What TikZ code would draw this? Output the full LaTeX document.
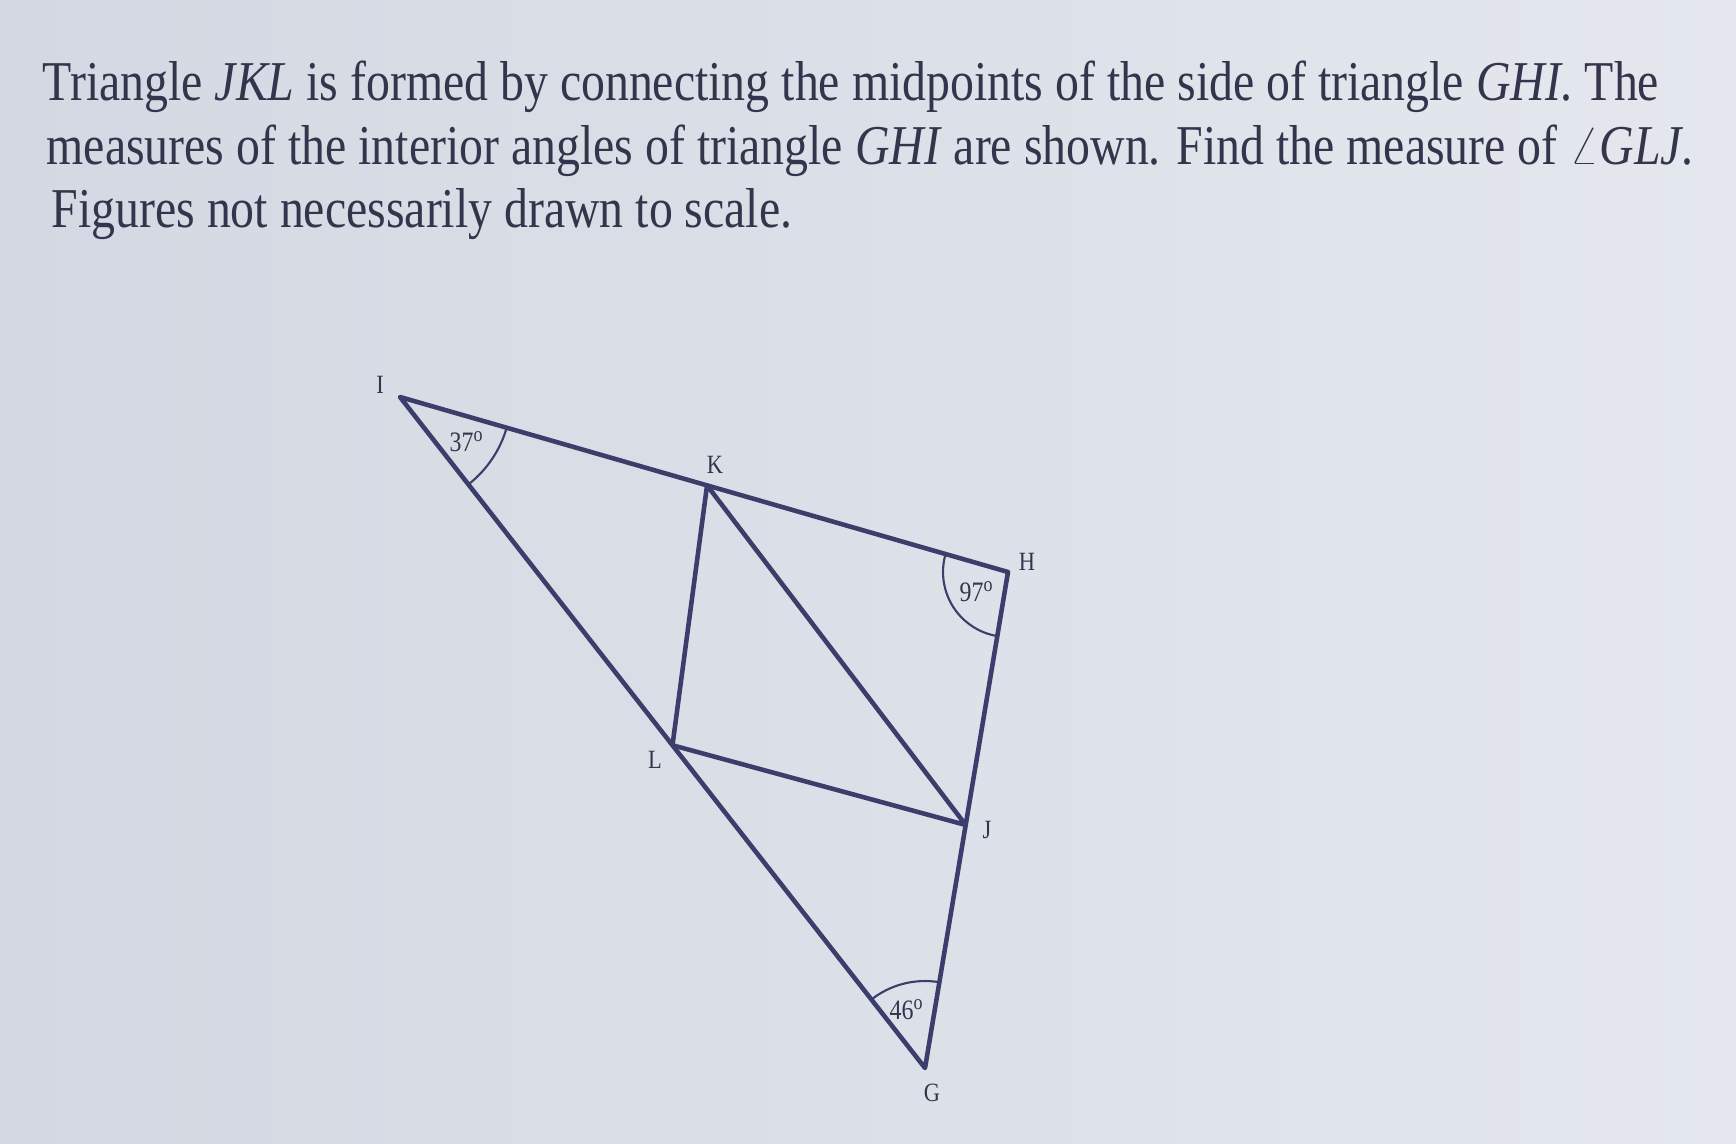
\documentclass[tikz,border=0pt]{standalone}
\usepackage{fontspec}
\setmainfont[FakeStretch=0.85]{Liberation Serif}
\usetikzlibrary{positioning, calc, angles}

\definecolor{bgcol}{HTML}{DDE3EC}
\definecolor{bgleft}{HTML}{D3D8E2}
\definecolor{bgright}{HTML}{E4E8EE}
\definecolor{inkcol}{HTML}{34354C}
\definecolor{edgecol}{HTML}{3B3D6B}

\begin{document}
\begin{tikzpicture}
  [
  % question text
  question/.style = {anchor = base west,
    inner sep = 0pt,
    text = inkcol,
    font = \fontsize{16}{19}\selectfont},
  % vertex label
  vlabel/.style = {inner sep = 1pt,
    text = inkcol,
    font = \fontsize{7.5}{9}\selectfont},
  % angle label
  alabel/.style = {inner sep = 1pt,
    text = inkcol,
    font = \fontsize{8}{10}\selectfont},
  % side
  side/.style = {draw = edgecol, line width = 1.3pt, line join = round},
  % angle mark
  amark/.style = {draw = edgecol, line width = 0.6pt},
  ]

  \shade [left color = bgleft, right color = bgright] (0,0) rectangle (17.36,-11.43);
  \useasboundingbox (0,0) rectangle (17.36,-11.43);

  % text
  \node [question] (line1) at (0.42,-1.00)
    {Triangle \textit{JKL} is formed by connecting the midpoints of the side of triangle \textit{GHI}. The};
  \node [question] (line2) at (0.46,-1.64)
    {measures of the interior angles of triangle \textit{GHI} are shown. Find the measure of $\angle$\textit{GLJ}.};
  \node [question] (line3) at (0.51,-2.27)
    {Figures not necessarily drawn to scale.};

  % vertices
  \coordinate (I) at (4.00,-3.97);
  \coordinate (H) at (10.08,-5.72);
  \coordinate (G) at (9.25,-10.68);
  \coordinate (K) at ($(I)!0.505!(H)$);
  \coordinate (L) at ($(I)!0.519!(G)$);
  \coordinate (J) at ($(H)!0.51!(G)$);

  % labels
  \node [vlabel] (labI) at (3.80,-3.85) {I};
  \node [vlabel] (labH) at (10.27,-5.62) {H};
  \node [vlabel] (labG) at (9.32,-10.93) {G};
  \node [vlabel] (labK) at (7.15,-4.65) {K};
  \node [vlabel] (labL) at (6.55,-7.60) {L};
  \node [vlabel] (labJ) at (9.87,-8.30) {J};

  \node [alabel] (angI) at (4.67,-4.42) {37\textsuperscript{o}};
  \node [alabel] (angH) at (9.77,-5.92) {97\textsuperscript{o}};
  \node [alabel] (angG) at (9.07,-10.10) {46\textsuperscript{o}};

  % path
  \path [side] (I) -- (H) -- (G) -- cycle;
  \path [side] (K) -- (L) -- (J) -- cycle;

  % angle marks
  \path pic [amark, angle radius = 1.11cm] {angle = G--I--H};
  \path pic [amark, angle radius = 0.65cm] {angle = I--H--G};
  \path pic [amark, angle radius = 0.87cm] {angle = H--G--I};

\end{tikzpicture}
\end{document}
